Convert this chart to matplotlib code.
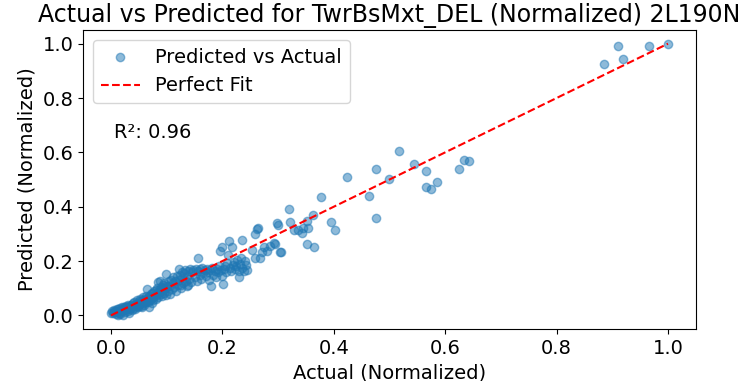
import matplotlib
matplotlib.use("Agg")
import matplotlib.pyplot as plt
import numpy as np

# actual / predicted values (normalized)
actual = [
    0.000, 0.002, 0.004, 0.005, 0.006, 0.008, 0.009, 0.010, 0.011, 0.012,
    0.013, 0.014, 0.015, 0.016, 0.017, 0.018, 0.019, 0.020, 0.021, 0.022,
    0.023, 0.024, 0.025, 0.026, 0.027, 0.028, 0.029, 0.030, 0.031, 0.032,
    0.033, 0.034, 0.035, 0.036, 0.037,
    0.038, 0.039, 0.040, 0.041, 0.042, 0.043, 0.044, 0.045, 0.046, 0.047,
    0.048, 0.049, 0.050, 0.051, 0.052, 0.053, 0.054, 0.055, 0.056, 0.057,
    0.058, 0.059, 0.060, 0.061, 0.062, 0.063, 0.064, 0.065, 0.066, 0.067,
    0.068, 0.069, 0.070, 0.071, 0.072, 0.073, 0.074, 0.075, 0.076, 0.077,
    0.078,
    0.080, 0.081, 0.082, 0.083, 0.084, 0.085, 0.086, 0.087, 0.088, 0.089,
    0.090, 0.091, 0.092, 0.093, 0.094, 0.095, 0.096, 0.097, 0.098, 0.099,
    0.100, 0.102, 0.104, 0.105, 0.106, 0.108, 0.110, 0.111, 0.112, 0.114,
    0.115, 0.116, 0.118, 0.120, 0.122, 0.123, 0.124, 0.125, 0.126, 0.127,
    0.128, 0.130, 0.131, 0.132, 0.134, 0.136, 0.137, 0.138, 0.139, 0.140,
    0.142, 0.144, 0.146, 0.148, 0.150, 0.152, 0.154, 0.156, 0.157, 0.159,
    0.160, 0.162, 0.164, 0.166, 0.168, 0.170, 0.172, 0.174, 0.176, 0.178,
    0.180, 0.182, 0.184, 0.186, 0.188, 0.190, 0.192, 0.194, 0.196, 0.197,
    0.199, 0.200, 0.201, 0.203, 0.205, 0.207, 0.209, 0.210, 0.212, 0.214,
    0.216, 0.217, 0.219, 0.221, 0.223, 0.225, 0.227, 0.229, 0.230, 0.232,
    0.233, 0.235, 0.236, 0.238, 0.240, 0.242, 0.244,
    0.254, 0.259, 0.259, 0.262, 0.264, 0.268, 0.271, 0.275, 0.280, 0.285,
    0.293, 0.294, 0.298, 0.300, 0.303, 0.305, 0.320, 0.321, 0.329, 0.336,
    0.343, 0.345, 0.352, 0.354, 0.352, 0.363, 0.364, 0.377, 0.395, 0.402,
    0.424, 0.463, 0.476, 0.476, 0.499, 0.517, 0.544, 0.566, 0.566, 0.575,
    0.585, 0.625, 0.634, 0.643, 0.885, 0.910, 0.919, 0.966, 1.000,
]
predicted = [
    0.010, 0.015, 0.008, 0.020, 0.012, 0.018, 0.005, 0.022, 0.014, 0.000,
    0.025, 0.010, 0.018, 0.028, 0.006, 0.020, 0.030, 0.015, 0.024, 0.002,
    0.032, 0.019, 0.026, 0.012, 0.035, 0.022, 0.030, 0.017, 0.038, 0.026,
    0.009, 0.033, 0.024, 0.040, 0.030,
    0.020, 0.045, 0.035, 0.028, 0.050, 0.038, 0.025, 0.042, 0.055, 0.033,
    0.047, 0.030, 0.052, 0.040, 0.062, 0.036, 0.048, 0.058, 0.030, 0.045,
    0.066, 0.052, 0.040, 0.060, 0.072, 0.048, 0.056, 0.096, 0.064, 0.050,
    0.030, 0.070, 0.058, 0.078, 0.062, 0.045, 0.082, 0.068, 0.055, 0.088,
    0.072,
    0.060, 0.092, 0.075, 0.100, 0.122, 0.066, 0.085, 0.095, 0.125, 0.078,
    0.105, 0.088, 0.070, 0.112, 0.096, 0.082, 0.118, 0.100, 0.075, 0.151,
    0.108, 0.090, 0.125, 0.110, 0.080, 0.132, 0.098, 0.118, 0.140, 0.105,
    0.125, 0.088, 0.145, 0.112, 0.170, 0.130, 0.150, 0.100, 0.111, 0.160,
    0.138, 0.118, 0.155, 0.166, 0.128, 0.107, 0.146, 0.111, 0.165, 0.135,
    0.170, 0.122, 0.158, 0.166, 0.140, 0.172, 0.128, 0.210, 0.162, 0.148,
    0.170, 0.135, 0.176, 0.155, 0.166, 0.145, 0.172, 0.160, 0.130, 0.168,
    0.107, 0.176, 0.150, 0.165, 0.140, 0.172, 0.158, 0.180, 0.236, 0.166,
    0.251, 0.145, 0.114, 0.170, 0.180, 0.160, 0.192, 0.221, 0.273, 0.175,
    0.165, 0.251, 0.185, 0.196, 0.170, 0.180, 0.205, 0.165, 0.140, 0.190,
    0.210, 0.277, 0.173, 0.162, 0.200, 0.185, 0.168,
    0.240, 0.299, 0.210, 0.317, 0.320, 0.210, 0.232, 0.250, 0.238, 0.255,
    0.266, 0.262, 0.340, 0.332, 0.232, 0.232, 0.391, 0.343, 0.314, 0.314,
    0.303, 0.321, 0.347, 0.321, 0.262, 0.369, 0.251, 0.435, 0.343, 0.314,
    0.509, 0.439, 0.539, 0.358, 0.502, 0.605, 0.557, 0.532, 0.472, 0.465,
    0.491, 0.539, 0.572, 0.568, 0.926, 0.990, 0.945, 0.990, 1.000,
]
r2_text = "R\u00b2: 0.96"
title = "Actual vs Predicted for TwrBsMxt_DEL (Normalized) 2L190N"

fig, ax = plt.subplots(figsize=(7.49, 3.81), dpi=100)
fig.subplots_adjust(left=0.111, right=0.929, top=0.921, bottom=0.1365)

ax.scatter(actual, predicted, alpha=0.5, label="Predicted vs Actual")
lo, hi = min(actual), max(actual)
ax.plot([lo, hi], [lo, hi], "r--", label="Perfect Fit")

ax.set_title(title, fontsize=17)
ax.set_xlabel("Actual (Normalized)", fontsize=14)
ax.set_ylabel("Predicted (Normalized)", fontsize=14)
ax.tick_params(labelsize=14)
ax.legend(loc="upper left", fontsize=14)
ax.text(0.05, 0.64, r2_text, transform=ax.transAxes, fontsize=14)

fig.savefig("out.png", dpi=100)
